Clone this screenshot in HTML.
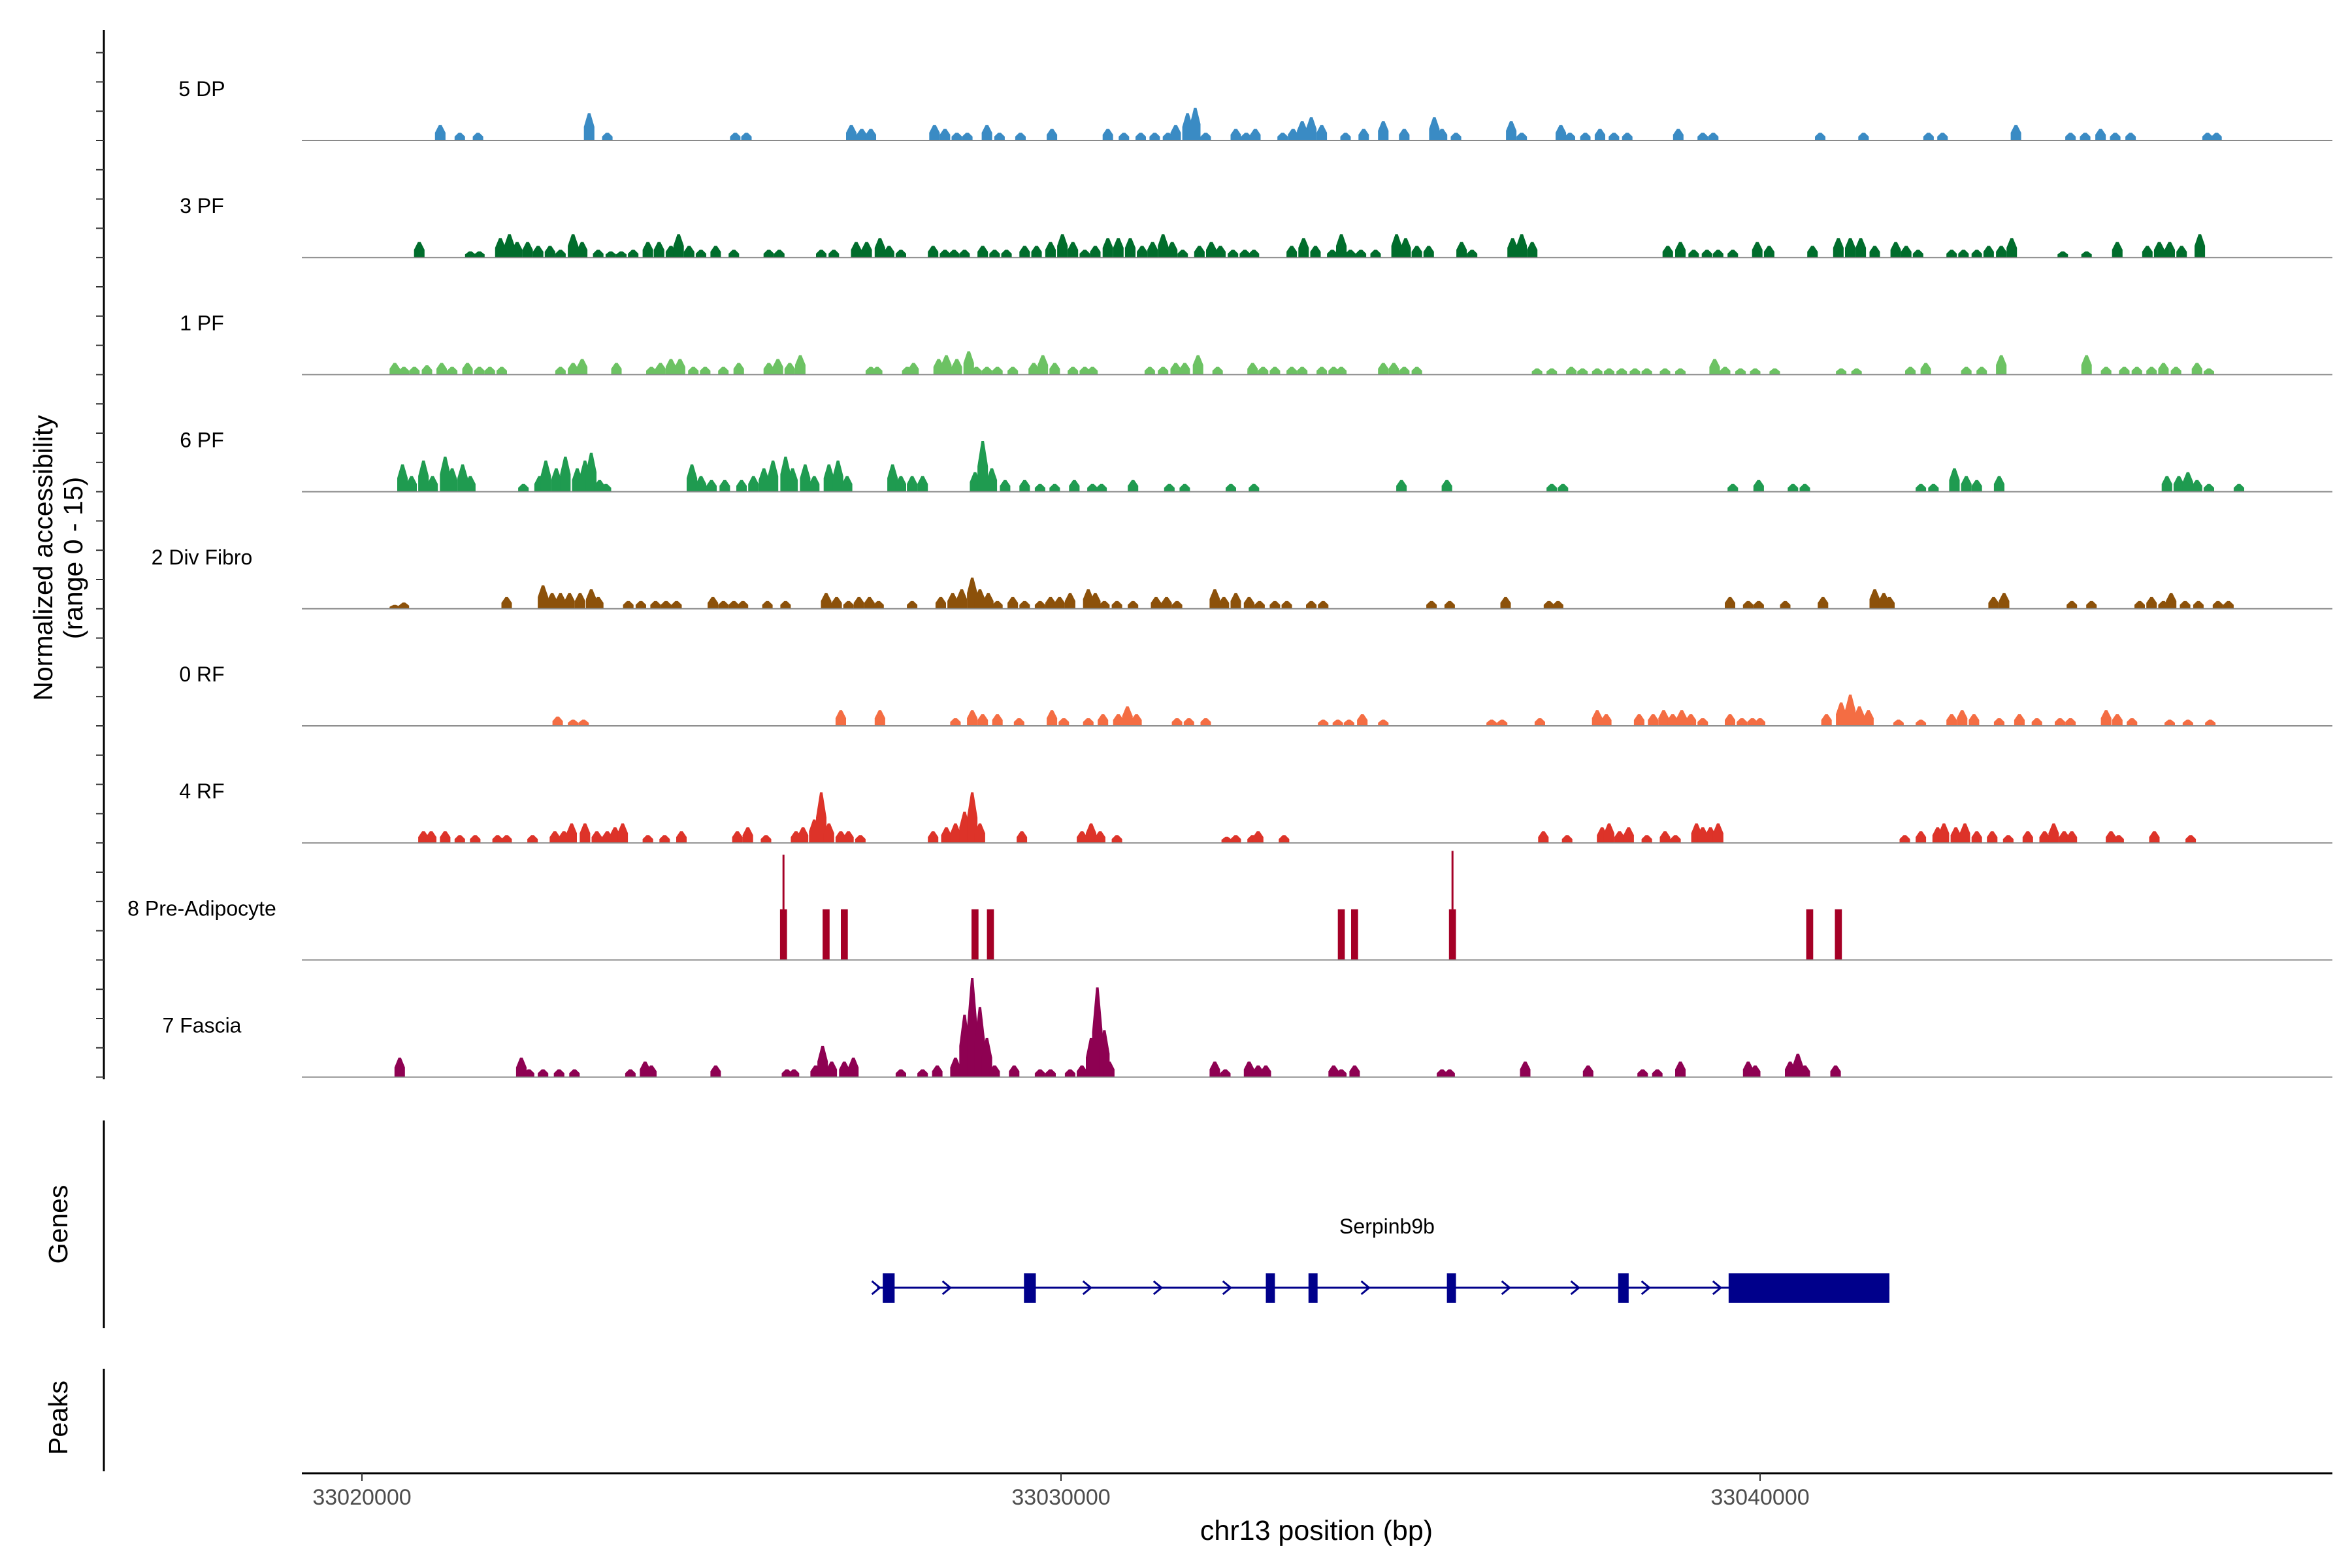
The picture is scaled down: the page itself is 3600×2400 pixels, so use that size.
<!DOCTYPE html>
<html><head><meta charset="utf-8"><style>
html,body{margin:0;padding:0;background:#fff}
svg{display:block;font-family:"Liberation Sans",Arial,sans-serif}
</style></head><body>
<svg id="chart" width="3600" height="2400" viewBox="0 0 3600 2400" xmlns="http://www.w3.org/2000/svg"></svg>
<script>
// ---- data (positions in kb from 33020000, heights in normalized units 0-15) ----
const trackNames = ["5 DP","3 PF","1 PF","6 PF","2 Div Fibro","0 RF","4 RF","8 Pre-Adipocyte","7 Fascia"];
const trackColors = ["#3a8bc4","#006d2c","#6cc263","#1f9b50","#8c510a","#f46d43","#dd3329","#a50026","#8e0152"];
const peaksDP = [[1.12,2],[1.40,1],[1.66,1],[3.25,3.5],[3.51,1],[5.34,1],[5.50,1],[7.00,2],[7.15,1.5],[7.28,1.5],[8.19,2],[8.34,1.5],[8.51,1],[8.66,1],[8.94,2],[9.12,1],[9.42,1],[9.87,1.5],[10.67,1.5],[10.90,1],[11.14,1],[11.34,1],[11.53,1],[11.64,2],[11.81,3.5],[11.92,4.2],[12.07,1],[12.50,1.5],[12.65,1],[12.78,1.5],[13.17,1],[13.32,1.5],[13.45,2.5],[13.58,3],[13.73,2],[14.07,1],[14.33,1.5],[14.61,2.5],[14.91,1.5],[15.34,3],[15.45,1.5],[15.65,1],[16.44,2.5],[16.59,1],[17.15,2],[17.28,1],[17.50,1],[17.71,1.5],[17.91,1],[18.10,1],[18.83,1.5],[19.18,1],[19.33,1],[20.86,1],[21.48,1],[22.41,1],[22.61,1],[23.66,2],[24.44,1],[24.65,1],[24.87,1.5],[25.08,1],[25.30,1],[26.40,1],[26.53,1]];
const peaks3PF = [[0.82,2],[1.55,.8],[1.68,.8],[1.98,2.5],[2.11,3],[2.22,2],[2.37,2],[2.52,1.5],[2.69,1.5],[2.84,1],[3.02,3],[3.15,2],[3.38,1],[3.56,.8],[3.71,.8],[3.88,1],[4.09,2],[4.25,2],[4.42,1.5],[4.53,3],[4.68,1.5],[4.85,1],[5.06,1.5],[5.32,1],[5.82,1],[5.97,1],[6.57,1],[6.75,1],[7.07,2],[7.22,2],[7.41,2.5],[7.54,1.5],[7.71,1],[8.17,1.5],[8.34,1],[8.47,1],[8.62,1],[8.88,1.5],[9.05,1],[9.22,1],[9.48,1.5],[9.65,1.5],[9.85,2],[10.02,3],[10.17,2],[10.34,1],[10.49,1.5],[10.67,2.5],[10.82,2.5],[10.99,2.5],[11.16,1.5],[11.31,2],[11.46,3],[11.59,2],[11.74,1],[11.98,1.5],[12.15,2],[12.28,1.5],[12.46,1],[12.63,1],[12.76,1],[13.30,1.5],[13.47,2.5],[13.64,1.5],[13.88,1],[14.01,3],[14.14,1],[14.29,1],[14.50,1],[14.80,3],[14.93,2.5],[15.09,1.5],[15.26,1.5],[15.73,2],[15.88,1],[16.46,2.5],[16.59,3],[16.74,2],[18.68,1.5],[18.86,2],[19.05,1],[19.24,1],[19.40,1],[19.61,1],[19.96,2],[20.13,1.5],[20.75,1.5],[21.12,2.5],[21.29,2.5],[21.44,2.5],[21.64,1.5],[21.94,2],[22.09,1.5],[22.26,1],[22.74,1],[22.91,1],[23.10,1],[23.27,1.5],[23.45,1.5],[23.60,2.5],[24.33,.8],[24.67,.8],[25.11,2],[25.54,1.5],[25.71,2],[25.86,2],[26.03,1.5],[26.29,3]];
const peaks1PF = [[0.47,1.5],[0.60,1],[0.75,1],[0.93,1.2],[1.14,1.5],[1.29,1],[1.51,1.5],[1.68,1],[1.83,1],[2.00,1],[2.84,1],[3.02,1.5],[3.15,2],[3.64,1.5],[4.14,1],[4.27,1.5],[4.42,2],[4.55,2],[4.74,1],[4.91,1],[5.17,1],[5.39,1.5],[5.82,1.5],[5.95,2],[6.12,1.5],[6.27,2.5],[7.28,1],[7.37,1],[7.80,1],[7.89,1.5],[8.25,2],[8.36,2.5],[8.51,2],[8.68,3],[8.79,1],[8.94,1],[9.09,1],[9.31,1],[9.61,1.5],[9.74,2.5],[9.91,1.5],[10.17,1],[10.34,1],[10.45,1],[11.27,1],[11.46,1],[11.64,1.5],[11.77,1.5],[11.96,2.5],[12.24,1],[12.74,1.5],[12.89,1],[13.06,1],[13.30,1],[13.45,1],[13.73,1],[13.90,1],[14.01,1],[14.61,1.5],[14.76,1.5],[14.91,1],[15.09,1],[16.81,.8],[17.02,.8],[17.30,1],[17.46,.8],[17.67,.8],[17.84,.8],[18.02,.8],[18.21,.8],[18.38,.8],[18.64,.8],[18.86,.8],[19.35,2],[19.50,1],[19.72,.8],[19.93,.8],[20.21,.8],[21.16,.8],[21.38,.8],[22.15,1],[22.37,1.5],[22.95,1],[23.17,1],[23.45,2.5],[24.67,2.5],[24.95,1],[25.21,1],[25.39,1],[25.60,1],[25.77,1.5],[25.95,1],[26.25,1.5],[26.42,.8]];
const peaks6PF = [[0.58,3.5],[0.71,2],[0.88,4],[1.01,2],[1.19,4.5],[1.29,3],[1.44,3.5],[1.55,2],[2.31,1],[2.54,2],[2.63,4],[2.78,3],[2.91,4.5],[3.08,3],[3.19,4],[3.28,5],[3.40,1.5],[3.49,1],[4.72,3.5],[4.85,2],[5.00,1.5],[5.19,1.5],[5.43,1.5],[5.60,2],[5.75,3],[5.88,4],[6.06,4.5],[6.16,3],[6.34,3.5],[6.47,2],[6.68,3.5],[6.81,4],[6.94,2],[7.59,3.5],[7.71,2],[7.87,2],[8.02,2],[8.77,2.5],[8.88,6.5],[9.01,3],[9.20,1.5],[9.48,1.5],[9.70,1],[9.91,1],[10.19,1.5],[10.45,1],[10.58,1],[11.03,1.5],[11.55,1],[11.77,1],[12.43,1],[12.76,1],[14.87,1.5],[15.52,1.5],[17.02,1],[17.18,1],[19.61,1],[19.98,1.5],[20.47,1],[20.64,1],[22.30,1],[22.48,1],[22.78,3],[22.95,2],[23.10,1.5],[23.42,2],[25.82,2],[25.99,2],[26.12,2.5],[26.25,1.5],[26.42,1],[26.85,1]];
const peaksDiv = [[0.47,.5],[0.60,.8],[2.07,1.5],[2.59,3],[2.72,2],[2.84,2],[2.97,2],[3.12,2],[3.28,2.5],[3.38,1.5],[3.81,1],[3.99,1],[4.20,1],[4.35,1],[4.50,1],[5.02,1.5],[5.17,1],[5.32,1],[5.45,1],[5.80,1],[6.06,1],[6.64,2],[6.79,1.5],[6.96,1],[7.11,1.5],[7.26,1.5],[7.39,1],[7.87,1],[8.28,1.5],[8.45,2],[8.58,2.5],[8.73,4],[8.84,2.5],[8.96,2],[9.09,1],[9.31,1.5],[9.48,1],[9.70,1],[9.85,1.5],[9.98,1.5],[10.13,2],[10.39,2.5],[10.49,2],[10.62,1],[10.80,1],[11.03,1],[11.36,1.5],[11.51,1.5],[11.66,1],[12.20,2.5],[12.33,1.5],[12.50,2],[12.69,1.5],[12.84,1],[13.06,1],[13.23,1],[13.58,1],[13.75,1],[15.30,1],[15.56,1],[16.36,1.5],[16.98,1],[17.11,1],[19.57,1.5],[19.83,1],[19.98,1],[20.36,1],[20.90,1.5],[21.64,2.5],[21.77,2],[21.85,1.5],[23.34,1.5],[23.49,2],[24.46,1],[24.74,1],[25.43,1],[25.60,1.5],[25.77,1],[25.88,2],[26.08,1],[26.27,1],[26.55,1],[26.70,1]];
const peaks0RF = [[2.80,1.2],[3.02,.8],[3.17,.8],[6.85,2],[7.41,2],[8.49,1],[8.73,2],[8.88,1.5],[9.09,1.5],[9.40,1],[9.87,2],[10.04,1],[10.39,1],[10.60,1.5],[10.82,1.5],[10.95,2.5],[11.08,1.5],[11.66,1],[11.83,1],[12.07,1],[13.75,.8],[13.96,.8],[14.12,.8],[14.31,1.5],[14.61,.8],[16.16,.8],[16.31,.8],[16.85,1],[17.67,2],[17.80,1.5],[18.27,1.5],[18.47,1.5],[18.62,2],[18.75,1.5],[18.88,2],[19.01,1.5],[19.18,1],[19.57,1.5],[19.74,1],[19.89,1],[20.00,1],[20.95,1.5],[21.16,3],[21.29,4],[21.42,2.5],[21.55,2],[21.98,.8],[22.30,.8],[22.74,1.5],[22.89,2],[23.06,1.5],[23.42,1],[23.71,1.5],[23.96,1],[24.29,1],[24.44,1],[24.95,2],[25.11,1.5],[25.32,1],[25.86,.8],[26.12,.8],[26.44,.8]];
const peaks4RF = [[0.88,1.5],[0.99,1.5],[1.19,1.5],[1.40,1],[1.62,1],[1.94,1],[2.07,1],[2.44,1],[2.76,1.5],[2.89,1.5],[3.00,2.5],[3.19,2.5],[3.36,1.5],[3.51,1.5],[3.62,2],[3.73,2.5],[4.09,1],[4.33,1],[4.57,1.5],[5.37,1.5],[5.52,2],[5.78,1],[6.21,1.5],[6.31,2],[6.47,3],[6.57,6.5],[6.68,2.5],[6.85,1.5],[6.96,1.5],[7.13,1],[8.17,1.5],[8.36,2],[8.49,2.5],[8.62,4],[8.73,6.5],[8.84,2.5],[9.44,1.5],[10.30,1.5],[10.43,2.5],[10.56,1.5],[10.80,1],[12.37,.8],[12.50,1],[12.74,1],[12.82,1.5],[13.19,1],[16.90,1.5],[17.24,1],[17.74,2],[17.84,2.5],[17.99,1.5],[18.12,2],[18.38,1],[18.64,1.5],[18.79,1],[19.09,2.5],[19.18,2],[19.29,2],[19.40,2.5],[22.07,1],[22.30,1.5],[22.54,2],[22.63,2.5],[22.80,2],[22.93,2.5],[23.10,1.5],[23.32,1.5],[23.55,1],[23.83,1.5],[24.07,1.5],[24.20,2.5],[24.35,1.5],[24.46,1.5],[25.02,1.5],[25.13,1],[25.64,1.5],[26.16,1]];
const peaksPreAd = [[6.03,6.5,13.5],[6.64,6.5],[6.90,6.5],[8.77,6.5],[8.99,6.5],[14.01,6.5],[14.20,6.5],[15.60,6.5,14],[20.71,6.5],[21.12,6.5]];
const peaksFascia = [[0.54,2.5],[2.28,2.5],[2.39,1],[2.59,1],[2.82,1],[3.04,1],[3.84,1],[4.05,2],[4.14,1.5],[5.06,1.5],[6.08,1],[6.18,1],[6.49,1.5],[6.59,4],[6.72,2],[6.90,2],[7.03,2.5],[7.71,1],[8.02,1],[8.23,1.5],[8.49,2.5],[8.62,8],[8.73,12.7],[8.84,9],[8.94,5],[9.05,1.5],[9.33,1.5],[9.70,1],[9.85,1],[10.13,1],[10.30,1.5],[10.43,5],[10.52,11.5],[10.62,6],[10.69,2],[12.20,2],[12.35,1],[12.69,2],[12.82,1.5],[12.93,1.5],[13.90,1.5],[14.01,1],[14.20,1.5],[15.45,1],[15.56,1],[16.64,2],[17.54,1.5],[18.32,1],[18.53,1],[18.86,2],[19.83,2],[19.93,1.5],[20.43,2],[20.54,3],[20.64,1.5],[21.08,1.5]];
const allPeaks = [peaksDP,peaks3PF,peaks1PF,peaks6PF,peaksDiv,peaks0RF,peaks4RF,peaksPreAd,peaksFascia];
const xTicks = [0,10,20];
const xTickLabels = ["33020000","33030000","33040000"];
const geneStart = 7.37, geneEnd = 21.85;
const exonStarts = [7.45,9.47,12.93,13.54,15.52,17.97,19.55];
const exonEnds = [7.62,9.64,13.06,13.67,15.65,18.12,21.85];
const arrowPos = [7.37,8.38,10.39,11.40,12.39,14.37,16.38,17.37,18.38,19.40];

// ---- scales ----
const X0 = 554, PXKB = 107;
function xs(kb){ return X0 + kb*PXKB; }
const baseY0 = 215, trackStep = 179.2, unitPx = 179/15;
function ys(t,v){ return baseY0 + t*trackStep - v*unitPx; }

const svg = document.getElementById('chart');
const NS = 'http://www.w3.org/2000/svg';
function mk(tag, attrs, parent){ const e=document.createElementNS(NS,tag); for(const k in attrs) e.setAttribute(k,attrs[k]); (parent||svg).appendChild(e); return e; }

// left axis (tracks)
const axL = mk('line',{x1:159,y1:46,x2:159,y2:1652,stroke:'#000','stroke-width':3});


for(let t=0;t<9;t++){
  for(let k=0;k<4;k++){
    const y = baseY0 + t*trackStep - k*trackStep/4;
    if(y<44) continue;
    const tk = mk('line',{x1:147,y1:y,x2:159,y2:y,stroke:'#333','stroke-width':2});
    
    
  }
}
const yt = mk('text',{x:0,y:0,'font-size':41,'text-anchor':'middle',fill:'#000',transform:'translate(80,854) rotate(-90)'});
yt.textContent='Normalized accessibility';


const yt2 = mk('text',{x:0,y:0,'font-size':41,'text-anchor':'middle',fill:'#000',transform:'translate(126,854) rotate(-90)'});
yt2.textContent='(range 0 - 15)';



// tracks
allPeaks.forEach((pk,t)=>{
  const g = mk('g',{fill:trackColors[t]});
  
  
  const base = ys(t,0);
  pk.forEach(p=>{
    const cx = xs(p[0]);
    const top = ys(t,p[1]);
    let pts;
    if(t===7){
      const w = 0.1*PXKB;
      pts = [[cx-w/2,base],[cx-w/2,top],[cx+w/2,top],[cx+w/2,base]];
    } else {
      const w = 0.15*PXKB, sh = ys(t,p[1]*0.5);
      pts = [[cx-w/2,base],[cx-w/2,sh],[cx-w*0.12,top],[cx+w*0.12,top],[cx+w/2,sh],[cx+w/2,base]];
    }
    const poly = mk('polygon',{points:pts.map(q=>q[0].toFixed(1)+','+q[1].toFixed(1)).join(' ')},g);
    
    
    if(p[2]){
      const sp = mk('rect',{x:cx-1.5,y:ys(t,p[2]),width:3,height:top-ys(t,p[2])},g);
      
      
    }
  });
  const bl = mk('line',{x1:462,y1:base,x2:3570,y2:base,stroke:'#8a8a8a','stroke-width':2});
  
  
  const lb = mk('text',{x:309,y:base-68,'font-size':32,'text-anchor':'middle',fill:'#000'});
  lb.textContent = trackNames[t];
  
  
});

// genes panel
const axG = mk('line',{x1:159,y1:1715,x2:159,y2:2033,stroke:'#000','stroke-width':3});


const gt = mk('text',{x:0,y:0,'font-size':41,'text-anchor':'middle',fill:'#000',transform:'translate(103,1874) rotate(-90)'});
gt.textContent='Genes';


const gl = mk('line',{x1:xs(geneStart),y1:1971,x2:xs(geneEnd),y2:1971,stroke:'#00008b','stroke-width':3});


arrowPos.forEach(a=>{
  const x = xs(a);
  const ar = mk('polyline',{points:`${x-8},${1961} ${x+4},${1971} ${x-8},${1981}`,fill:'none',stroke:'#00008b','stroke-width':3});
  
  
});
exonStarts.forEach((s,i)=>{
  const r = mk('rect',{x:xs(s),y:1949,width:xs(exonEnds[i])-xs(s),height:45,fill:'#00008b'});
  
  
});
const gn = mk('text',{x:2123,y:1888,'font-size':32,'text-anchor':'middle',fill:'#000'});
gn.textContent='Serpinb9b';



// peaks panel
const axP = mk('line',{x1:159,y1:2095,x2:159,y2:2252,stroke:'#000','stroke-width':3});


const pt = mk('text',{x:0,y:0,'font-size':41,'text-anchor':'middle',fill:'#000',transform:'translate(103,2170) rotate(-90)'});
pt.textContent='Peaks';



// x axis
const ax = mk('line',{x1:462,y1:2255,x2:3570,y2:2255,stroke:'#000','stroke-width':3});


xTicks.forEach((v,i)=>{
  const x = xs(v);
  const tk = mk('line',{x1:x,y1:2255,x2:x,y2:2267,stroke:'#333','stroke-width':2});
  
  
  const tl = mk('text',{x:x,y:2303,'font-size':34,'text-anchor':'middle',fill:'#4d4d4d'});
  tl.textContent = xTickLabels[i];
  
  
});
const xt = mk('text',{x:2015,y:2357,'font-size':43,'text-anchor':'middle',fill:'#000'});
xt.textContent='chr13 position (bp)';


</script>
</body></html>
